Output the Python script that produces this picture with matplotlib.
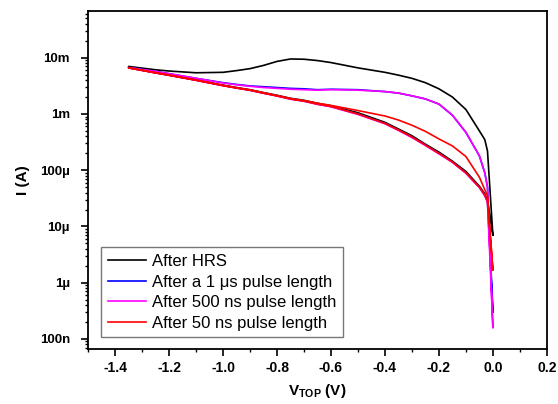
import matplotlib
matplotlib.use("Agg")
import matplotlib.pyplot as plt
from matplotlib.ticker import FixedLocator, FixedFormatter, LogLocator, MultipleLocator, NullFormatter

plt.rcParams["font.family"] = ["Liberation Sans", "DejaVu Sans"]
plt.rcParams["mathtext.fontset"] = "custom"
plt.rcParams["mathtext.rm"] = "Liberation Sans:bold"
plt.rcParams["mathtext.bf"] = "Liberation Sans:bold"
plt.rcParams["mathtext.it"] = "Liberation Sans:bold"

# sweep 0 -> -1.35 V (upper branch) and back (lower branch)
V = [0.0, -0.02, -0.03, -0.05, -0.1, -0.15, -0.2, -0.25, -0.3, -0.35, -0.4,
     -0.5, -0.6, -0.65, -0.7, -0.75, -0.8, -0.85, -0.9, -0.95, -1.0, -1.1,
     -1.2, -1.25, -1.35]

hrs_up = [7e-6, 2.2e-4, 3.5e-4, 5e-4, 1.2e-3, 2.0e-3, 2.8e-3, 3.6e-3, 4.3e-3, 4.9e-3, 5.5e-3,
          6.6e-3, 8.2e-3, 8.9e-3, 9.4e-3, 9.5e-3, 8.6e-3, 7.3e-3, 6.4e-3, 5.9e-3, 5.5e-3, 5.4e-3,
          5.8e-3, 6.1e-3, 7.0e-3]
hrs_dn = [7e-6, 2.9e-5, 3.8e-5, 5.2e-5, 9.5e-5, 1.45e-4, 2.1e-4, 2.9e-4, 4.1e-4, 5.4e-4, 7.1e-4,
          1.05e-3, 1.4e-3, 1.55e-3, 1.75e-3, 1.9e-3, 2.15e-3, 2.4e-3, 2.7e-3, 2.95e-3, 3.25e-3, 4.0e-3,
          4.9e-3, 5.4e-3, 6.7e-3]

us1_up = [3e-7, 5e-5, 9e-5, 1.8e-4, 4.7e-4, 9.5e-4, 1.5e-3, 1.85e-3, 2.1e-3, 2.35e-3, 2.5e-3,
          2.7e-3, 2.75e-3, 2.7e-3, 2.8e-3, 2.85e-3, 2.95e-3, 3.05e-3, 3.15e-3, 3.35e-3, 3.6e-3, 4.3e-3,
          5.2e-3, 5.7e-3, 6.7e-3]
us1_dn = [3e-7, 2.8e-5, 3.6e-5, 5e-5, 9e-5, 1.4e-4, 2.0e-4, 2.8e-4, 3.9e-4, 5.2e-4, 6.8e-4,
          1.0e-3, 1.36e-3, 1.5e-3, 1.7e-3, 1.85e-3, 2.1e-3, 2.35e-3, 2.65e-3, 2.9e-3, 3.2e-3, 4.0e-3,
          4.9e-3, 5.4e-3, 6.6e-3]

ns500_up = [1.6e-7, 5e-5, 9e-5, 1.8e-4, 4.7e-4, 9.5e-4, 1.5e-3, 1.85e-3, 2.1e-3, 2.35e-3, 2.5e-3,
            2.65e-3, 2.7e-3, 2.65e-3, 2.7e-3, 2.75e-3, 2.85e-3, 2.95e-3, 3.1e-3, 3.3e-3, 3.55e-3, 4.3e-3,
            5.2e-3, 5.7e-3, 6.7e-3]
ns500_dn = [1.6e-7, 2.7e-5, 3.5e-5, 4.9e-5, 8.8e-5, 1.38e-4, 1.95e-4, 2.75e-4, 3.8e-4, 5.1e-4, 6.7e-4,
            9.8e-4, 1.34e-3, 1.48e-3, 1.68e-3, 1.83e-3, 2.08e-3, 2.33e-3, 2.62e-3, 2.88e-3, 3.18e-3, 3.95e-3,
            4.85e-3, 5.35e-3, 6.6e-3]

ns50_up = [1.7e-6, 3.5e-5, 4.5e-5, 7.5e-5, 1.75e-4, 2.7e-4, 3.6e-4, 4.9e-4, 6.3e-4, 7.8e-4, 9.2e-4,
           1.15e-3, 1.42e-3, 1.55e-3, 1.72e-3, 1.87e-3, 2.12e-3, 2.37e-3, 2.67e-3, 2.92e-3, 3.22e-3, 4.0e-3,
           4.9e-3, 5.4e-3, 6.6e-3]
ns50_dn = [1.7e-6, 2.8e-5, 3.6e-5, 5e-5, 9e-5, 1.4e-4, 2.0e-4, 2.8e-4, 3.9e-4, 5.2e-4, 6.8e-4,
           1.0e-3, 1.36e-3, 1.5e-3, 1.7e-3, 1.85e-3, 2.1e-3, 2.35e-3, 2.65e-3, 2.9e-3, 3.2e-3, 4.0e-3,
           4.9e-3, 5.4e-3, 6.6e-3]

labels = ["After HRS", "After a 1 \u03bcs pulse length",
          "After 500 ns pulse length", "After 50 ns pulse length"]
colors = ["black", "blue", "magenta", "red"]

ytick_vals = [1e-7, 1e-6, 1e-5, 1e-4, 1e-3, 1e-2]
ytick_labels = ["100n", "1\u00b5", "10\u00b5", "100\u00b5", "1m", "10m"]


def loop(up, dn):
    # go out along the upper branch and come back along the lower one
    return V + V[::-1], up + dn[::-1]


fig = plt.figure(figsize=(5.58, 4.04), dpi=100)
ax = fig.add_axes([0.158, 0.136, 0.822, 0.837])

curves = [(hrs_up, hrs_dn), (us1_up, us1_dn), (ns500_up, ns500_dn), (ns50_up, ns50_dn)]
handles = []
for (up, dn), c, lab in zip(curves, colors, labels):
    x, y = loop(up, dn)
    h, = ax.plot(x, y, color=c, lw=1.2, label=lab)
    handles.append(h)

ax.set_yscale("log")
ax.set_xlim(-1.5, 0.2)
ax.set_ylim(6.6e-8, 0.068)

ax.xaxis.set_major_locator(MultipleLocator(0.2))
ax.xaxis.set_minor_locator(MultipleLocator(0.1))
ax.set_xticklabels([f"{t:.1f}" for t in ax.get_xticks()])
ax.yaxis.set_major_locator(FixedLocator(ytick_vals))
ax.yaxis.set_major_formatter(FixedFormatter(ytick_labels))
ax.yaxis.set_minor_locator(LogLocator(base=10, subs=range(2, 10), numticks=20))
ax.yaxis.set_minor_formatter(NullFormatter())

ax.tick_params(which="major", direction="out", length=5, width=1.2, labelsize=10)
ax.tick_params(axis="y", which="major", pad=8, labelsize=9.5)
ax.tick_params(which="minor", direction="out", length=2.5, width=1.0)
for lab in ax.get_xticklabels() + ax.get_yticklabels():
    lab.set_fontweight("bold")
for s in ax.spines.values():
    s.set_linewidth(1.3)

ax.set_xlabel(r"$\mathbf{V_{TOP}}$ (V)", fontsize=11, fontweight="bold", labelpad=5)
ax.set_ylabel("I (A)", fontsize=11, fontweight="bold", labelpad=7)

leg = ax.legend(handles=handles, loc="lower left", bbox_to_anchor=(0.028, 0.035),
                fontsize=12, frameon=True, fancybox=False, edgecolor="#555555",
                handlelength=2.3, handletextpad=0.35, labelspacing=0.33, borderpad=0.4,
                borderaxespad=0)
leg.get_frame().set_linewidth(1.0)

fig.savefig("out.png", dpi=100)
